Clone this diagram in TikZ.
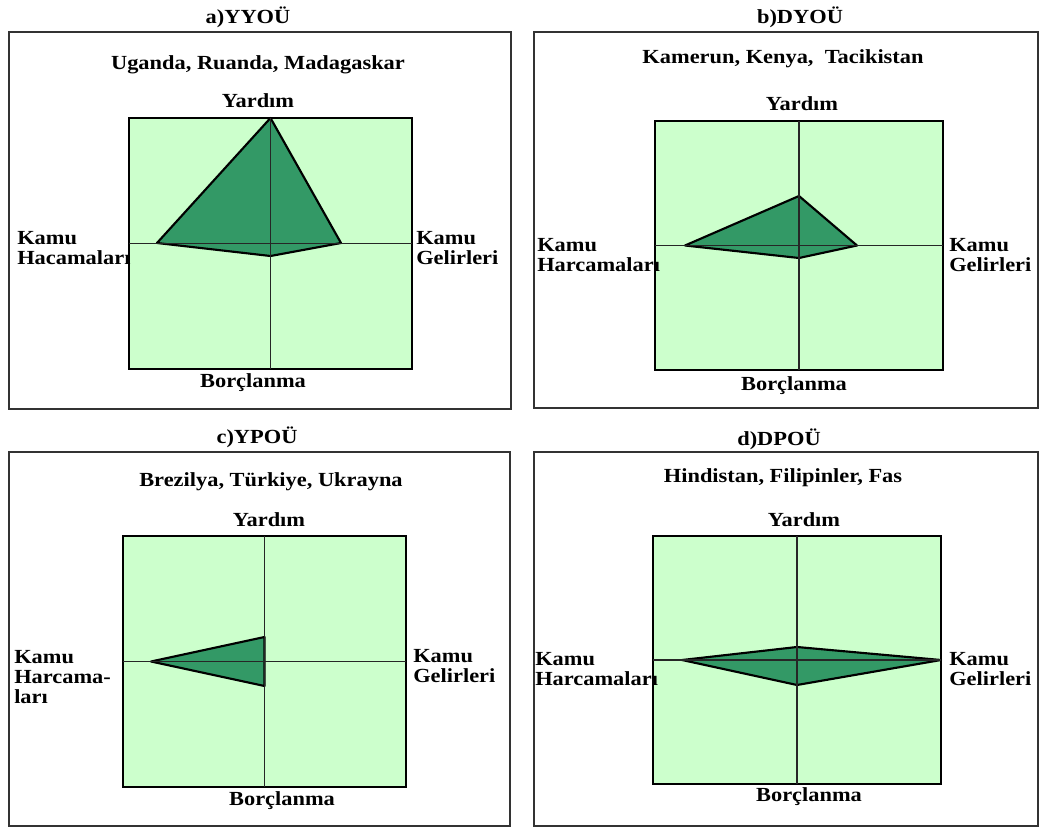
\documentclass[tikz,border=0pt]{standalone}
\usepackage{fontspec}
\setmainfont{Liberation Serif}[FakeStretch=1.12]
\definecolor{chartbg}{HTML}{CCFFCC}
\definecolor{shapegreen}{HTML}{339966}
\definecolor{framegray}{HTML}{333333}
\begin{document}
\begin{tikzpicture}[x=0.75pt, y=-0.75pt, every node/.style={font=\fontsize{15}{15}\selectfont\bfseries}]
				\tikzstyle{panelframe}=[draw=framegray, line width=1.6pt]
				\tikzstyle{chartsq}=[draw=black, fill=chartbg, line width=1.1pt, inner sep=0pt, outer sep=0pt]
				\tikzstyle{axisline}=[draw=black!85, line width=1pt]
				\tikzstyle{profile}=[draw=black, fill=shapegreen, line width=1.6pt, line join=round]
				\tikzstyle{axislabel}=[align=left, anchor=west, inner sep=0pt]
				
				\useasboundingbox (0,0) rectangle (1040,828);
				
				% a) YYOU
				\draw[panelframe] (9,32) rectangle (511,409);
				\node (titleA) at (248,17) {a)YYOÜ};
				\node (groupA) at (258,65) {Uganda, Ruanda, Madagaskar};
				\node (chartA) at (270.5,243.5) [chartsq, minimum width=212.25pt, minimum height=188.25pt] {};
				\draw[profile] (chartA.north) -- (341,243) -- (270.5,256) -- (157,243) -- cycle;
				\draw[axisline] (chartA.north) -- (chartA.south) (chartA.west) -- (chartA.east);
				\node (aidA) at (258,101) {Yardım};
				\node (debtA) at (253,383) {Borçlanma};
				\node (spendA) at (17,248) [axislabel] {Kamu\\Hacamaları};
				\node (revA) at (416,248) [axislabel] {Kamu\\Gelirleri};
				
				% b) DYOU
				\draw[panelframe] (534,32) rectangle (1038,408);
				\node (titleB) at (800,17) {b)DYOÜ};
				\node (groupB) at (783,59) {Kamerun, Kenya,\ \ Tacikistan};
				\node (chartB) at (799,245.5) [chartsq, minimum width=216pt, minimum height=186.75pt] {};
				\draw[profile] (799,196) -- (857,245.5) -- (799,258) -- (685,245.5) -- cycle;
				\draw[axisline] (chartB.north) -- (chartB.south) (chartB.west) -- (chartB.east);
				\node (aidB) at (802,104) {Yardım};
				\node (debtB) at (794,386) {Borçlanma};
				\node (spendB) at (537,255) [axislabel] {Kamu\\Harcamaları};
				\node (revB) at (949,255) [axislabel] {Kamu\\Gelirleri};
				
				% c) YPOU
				\draw[panelframe] (9,452) rectangle (510,826);
				\node (titleC) at (257,437) {c)YPOÜ};
				\node (groupC) at (271,482) {Brezilya, Türkiye, Ukrayna};
				\node (chartC) at (264.5,661.5) [chartsq, minimum width=212.25pt, minimum height=188.25pt] {};
				\draw[profile] (264.5,637) -- (264.5,686) -- (151,661.5) -- cycle;
				\draw[axisline] (chartC.north) -- (chartC.south) (chartC.west) -- (chartC.east);
				\node (aidC) at (269,520) {Yardım};
				\node (debtC) at (282,801) {Borçlanma};
				\node (spendC) at (14,677) [axislabel] {Kamu\\Harcama-\\ları};
				\node (revC) at (413,666) [axislabel] {Kamu\\Gelirleri};
				
				% d) DPOU
				\draw[panelframe] (534,452) rectangle (1038,826);
				\node (titleD) at (779,439) {d)DPOÜ};
				\node (groupD) at (783,478) {Hindistan, Filipinler, Fas};
				\node (chartD) at (797,660) [chartsq, minimum width=216pt, minimum height=186pt] {};
				\draw[profile] (797,647) -- (chartD.east) -- (797,685) -- (682,660) -- cycle;
				\draw[axisline] (chartD.north) -- (chartD.south) (chartD.west) -- (chartD.east);
				\node (aidD) at (804,520) {Yardım};
				\node (debtD) at (809,797) {Borçlanma};
				\node (spendD) at (535,669) [axislabel] {Kamu\\Harcamaları};
				\node (revD) at (949,669) [axislabel] {Kamu\\Gelirleri};
\end{tikzpicture}
\end{document}
